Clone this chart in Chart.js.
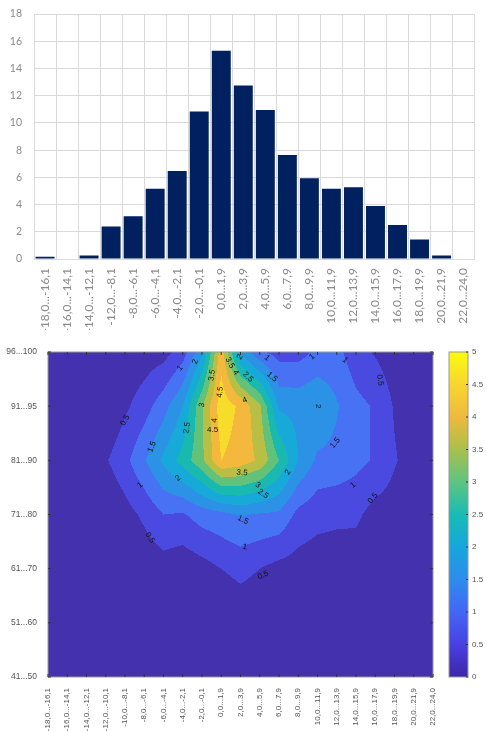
<!DOCTYPE html>
<html lang="en">
<head>
    <meta charset="UTF-8">
    <script src="https://cdn.jsdelivr.net/npm/chart.js"></script>
    <title>Distribution</title>
    <style>
        body { margin: 0; background: #fff; }
        canvas { display: block; }
    </style>
</head>
<body>
    <canvas id="barChart" width="487" height="330"></canvas>
    <canvas id="mapChart" width="487" height="401"></canvas>
<script>
// top histogram
const barLabels = ['-18,0...-16,1', '-16,0...-14,1', '-14,0...-12,1', '-12,0...-8,1', '-8,0...-6,1',
    '-6,0...-4,1', '-4,0...-2,1', '-2,0...-0,1', '0,0...1,9', '2,0...3,9', '4,0...5,9', '6,0...7,9',
    '8,0...9,9', '10,0...11,9', '12,0...13,9', '14,0...15,9', '16,0...17,9', '18,0...19,9',
    '20,0...21,9', '22,0...24,0'];
const barValues = [0.17, 0, 0.25, 2.38, 3.15, 5.17, 6.47, 10.83, 15.3, 12.74, 10.95, 7.64,
    5.93, 5.17, 5.27, 3.89, 2.5, 1.44, 0.25, 0];

// bottom contour map
const xBins = ['-18,0...-16,1', '-16,0...-14,1', '-14,0...-12,1', '-12,0...-10,1', '-10,0...-8,1',
    '-8,0...-6,1', '-6,0...-4,1', '-4,0...-2,1', '-2,0...-0,1', '0,0...1,9', '2,0...3,9', '4,0...5,9',
    '6,0...7,9', '8,0...9,9', '10,0...11,9', '12,0...13,9', '14,0...15,9', '16,0...17,9',
    '18,0...19,9', '20,0...21,9', '22,0...24,0'];
const yBins = ['41...50', '51...60', '61...70', '71...80', '81...90', '91...95', '96...100'];

const z41_50  = [0, 0, 0, 0, 0, 0, 0, 0, 0, 0, 0, 0, 0, 0, 0, 0, 0, 0, 0, 0, 0];
const z51_60  = [0, 0, 0, 0, 0, 0, 0, 0, 0.05, 0.1, 0.2, 0.15, 0.1, 0.05, 0, 0, 0, 0, 0, 0, 0];
const z61_70  = [0, 0, 0, 0, 0, 0.15, 0.25, 0.15, 0.3, 0.5, 0.62, 0.5, 0.33, 0.27, 0.22, 0.26, 0.2, 0.1, 0.05, 0, 0];
const z71_80  = [0, 0, 0, 0, 0.3, 0.6, 1.0, 0.95, 1.22, 1.35, 1.55, 1.45, 1.4, 0.85, 0.66, 0.59, 0.6, 0.3, 0.25, 0.05, 0];
const z81_90  = [0, 0, 0, 0.45, 0.85, 1.45, 2.1, 2.7, 3.4, 4.5, 4.3, 3.9, 3.0, 2.0, 1.4, 1.35, 1.15, 0.95, 0.55, 0.25, 0];
const z91_95  = [0, 0, 0, 0, 0.4, 0.77, 1.3, 2.0, 3.45, 4.8, 4.4, 3.6, 1.9, 1.85, 1.98, 1.55, 1.15, 0.95, 0.45, 0.15, 0];
const z96_100 = [0, 0, 0, 0, 0.1, 0.2, 0.3, 0.75, 1.9, 4.3, 1.9, 1.1, 0.8, 0.8, 1.1, 1.15, 0.7, 0.45, 0.2, 0.1, 0];
const zRows = [z41_50, z51_60, z61_70, z71_80, z81_90, z91_95, z96_100];

const levelStep = 0.5;
const cbMax = 5;
const bandColors = ['#4431ad', '#4a4ae0', '#4672f3', '#2b92e6', '#17aad8', '#19b9b0',
    '#62c27a', '#b9be45', '#f4b93c', '#f8dc2c'];
const parula = ['#3e26a8', '#4840e2', '#4466f6', '#2d8cec', '#16a6dc', '#18bcb4',
    '#5ec482', '#a9c04c', '#efb93e', '#f7d62f', '#f9fb0e'];

// contour labels: x bin, y bin, level, angle
const contourLabels = [
    [7.64, 5.82, '2', -70], [6.86, 5.70, '1', -50], [8.52, 5.57, '3.5', -80],
    [9.45, 5.80, '3.5', 60], [9.75, 5.62, '4', 60], [9.97, 5.91, '2', -60],
    [10.39, 5.54, '2.5', 45], [8.94, 5.26, '4.5', -85], [10.23, 5.11, '4', -20],
    [8.0, 5.02, '3', -75], [8.65, 4.74, '4', -85], [8.55, 4.56, '4.5', 0],
    [7.22, 4.60, '2.5', -80], [4.0, 4.74, '0.5', -60], [5.40, 4.25, '1.5', -70],
    [4.78, 3.54, '1', -40], [6.75, 3.67, '2', -40], [10.08, 3.77, '3.5', 5],
    [10.9, 3.54, '3', 35], [11.17, 3.38, '2.5', 35], [12.47, 3.78, '2', -60],
    [10.13, 2.90, '1.5', 25], [5.30, 2.57, '0.5', 55], [10.23, 2.40, '1', 10],
    [11.17, 1.88, '0.5', -25], [15.84, 3.54, '1', -40], [16.88, 3.30, '0.5', -50],
    [14.91, 4.32, '1.5', -50], [14.03, 5.0, '2', 90], [17.25, 5.48, '0.5', 80],
    [11.64, 5.54, '1.5', 40], [11.38, 5.89, '1', 40], [13.71, 5.91, '1', -40],
    [15.43, 5.85, '1', 40]
];

function hexToRgb(h) {
    const n = parseInt(h.slice(1), 16);
    return [(n >> 16) & 255, (n >> 8) & 255, n & 255];
}

function zAt(xv, yv) {
    const nx = zRows[0].length - 1, ny = zRows.length - 1;
    xv = Math.min(Math.max(xv, 0), nx);
    yv = Math.min(Math.max(yv, 0), ny);
    const i = Math.min(Math.floor(xv), nx - 1), j = Math.min(Math.floor(yv), ny - 1);
    const fx = xv - i, fy = yv - j;
    const a = zRows[j][i], b = zRows[j][i + 1], c = zRows[j + 1][i], d = zRows[j + 1][i + 1];
    return a * (1 - fx) * (1 - fy) + b * fx * (1 - fy) + c * (1 - fx) * fy + d * fx * fy;
}

new Chart(document.getElementById('barChart'), {
    type: 'bar',
    data: {
        labels: barLabels,
        datasets: [{
            data: barValues,
            backgroundColor: '#002060',
            barPercentage: 0.86,
            categoryPercentage: 1
        }]
    },
    options: {
        responsive: false,
        animation: false,
        layout: { padding: { top: 14, right: 0, left: 0 } },
        plugins: { legend: { display: false }, tooltip: { enabled: false } },
        scales: {
            x: {
                grid: { color: '#d9d9d9', drawTicks: false },
                border: { color: '#d9d9d9' },
                ticks: {
                    autoSkip: false, minRotation: 90, maxRotation: 90, padding: 9,
                    color: '#8a8a8a', font: { family: 'Lato', size: 12 }
                },
                afterFit: s => { s.height = 71; }
            },
            y: {
                min: 0, max: 18,
                grid: { color: '#d9d9d9', drawTicks: true, tickLength: 10, tickColor: 'rgba(0,0,0,0)' },
                border: { display: false },
                ticks: { stepSize: 2, padding: 2, color: '#8a8a8a', font: { family: 'Lato', size: 10.5 } },
                afterFit: s => { s.width = 34; }
            }
        }
    }
});

const contourPlugin = {
    id: 'contourFill',
    beforeDatasetsDraw(chart) {
        const { ctx, chartArea: a, scales: { x, y, cb } } = chart;
        const w = Math.round(a.right - a.left), h = Math.round(a.bottom - a.top);
        const off = document.createElement('canvas');
        off.width = w; off.height = h;
        const octx = off.getContext('2d');
        const img = octx.createImageData(w, h);
        const rgb = bandColors.map(hexToRgb);
        for (let py = 0; py < h; py++) {
            const yv = y.getValueForPixel(a.top + py + 0.5);
            for (let px = 0; px < w; px++) {
                const xv = x.getValueForPixel(a.left + px + 0.5);
                let band = Math.floor(zAt(xv, yv) / levelStep);
                band = Math.max(0, Math.min(rgb.length - 1, band));
                const k = (py * w + px) * 4, c = rgb[band];
                img.data[k] = c[0]; img.data[k + 1] = c[1]; img.data[k + 2] = c[2]; img.data[k + 3] = 255;
            }
        }
        octx.putImageData(img, 0, 0);
        ctx.save();
        ctx.drawImage(off, a.left, a.top);

        // axes box and inner ticks
        ctx.strokeStyle = '#9a9a9a';
        ctx.lineWidth = 1;
        ctx.strokeRect(a.left, a.top, a.right - a.left, a.bottom - a.top);
        ctx.strokeStyle = '#333';
        ctx.beginPath();
        x.ticks.forEach(t => {
            const p = x.getPixelForValue(t.value);
            ctx.moveTo(p, a.bottom); ctx.lineTo(p, a.bottom - 3);
            ctx.moveTo(p, a.top); ctx.lineTo(p, a.top + 3);
        });
        y.ticks.forEach(t => {
            const p = y.getPixelForValue(t.value);
            ctx.moveTo(a.left, p); ctx.lineTo(a.left + 3, p);
            ctx.moveTo(a.right, p); ctx.lineTo(a.right - 3, p);
        });
        ctx.stroke();

        // colour bar
        const bx = cb.left + 16, bw = 19;
        const y0 = cb.getPixelForValue(0), y1 = cb.getPixelForValue(cbMax);
        const grad = ctx.createLinearGradient(0, y0, 0, y1);
        parula.forEach((c, i) => grad.addColorStop(i / (parula.length - 1), c));
        ctx.fillStyle = grad;
        ctx.fillRect(bx, y1, bw, y0 - y1);
        ctx.strokeStyle = '#9a9a9a';
        ctx.strokeRect(bx, y1, bw, y0 - y1);
        ctx.strokeStyle = '#333';
        ctx.beginPath();
        cb.ticks.forEach(t => {
            const p = cb.getPixelForValue(t.value);
            ctx.moveTo(bx + bw, p); ctx.lineTo(bx + bw - 2, p);
        });
        ctx.stroke();
        ctx.restore();
    },
    afterDatasetsDraw(chart) {
        const { ctx, scales: { x, y } } = chart;
        ctx.save();
        ctx.fillStyle = '#111';
        ctx.font = '8px "Liberation Sans"';
        ctx.textAlign = 'center';
        ctx.textBaseline = 'middle';
        contourLabels.forEach(([xv, yv, txt, ang]) => {
            ctx.save();
            ctx.translate(x.getPixelForValue(xv), y.getPixelForValue(yv));
            ctx.rotate(ang * Math.PI / 180);
            ctx.fillText(txt, 0, 0);
            ctx.restore();
        });
        ctx.restore();
    }
};

const tickFont = { family: 'Liberation Sans', size: 8 };
new Chart(document.getElementById('mapChart'), {
    type: 'scatter',
    data: { datasets: [] },
    options: {
        responsive: false,
        animation: false,
        layout: { padding: { top: 22, left: 0, right: 0, bottom: 0 } },
        plugins: { legend: { display: false }, tooltip: { enabled: false } },
        scales: {
            x: {
                type: 'linear', min: 0, max: xBins.length - 1,
                grid: { display: false }, border: { display: false },
                ticks: {
                    stepSize: 1, autoSkip: false, minRotation: 90, maxRotation: 90, padding: 3,
                    color: '#555', font: tickFont,
                    callback: v => xBins[v]
                },
                afterFit: s => { s.height = 54; }
            },
            y: {
                type: 'linear', min: 0, max: yBins.length - 1,
                grid: { display: false }, border: { display: false },
                ticks: { stepSize: 1, padding: 3, color: '#555', font: { family: 'Liberation Sans', size: 8.5 }, callback: v => yBins[v] },
                afterFit: s => { s.width = 48; }
            },
            cb: {
                type: 'linear', position: 'right', min: 0, max: cbMax,
                grid: { display: true, drawOnChartArea: false, drawTicks: true, tickLength: 37, tickColor: 'rgba(0,0,0,0)' },
                border: { display: false },
                ticks: { stepSize: levelStep, padding: 2, color: '#555', font: tickFont, callback: v => String(v) },
                afterFit: s => { s.width = 54; }
            }
        }
    },
    plugins: [contourPlugin]
});
</script>
</body>
</html>
